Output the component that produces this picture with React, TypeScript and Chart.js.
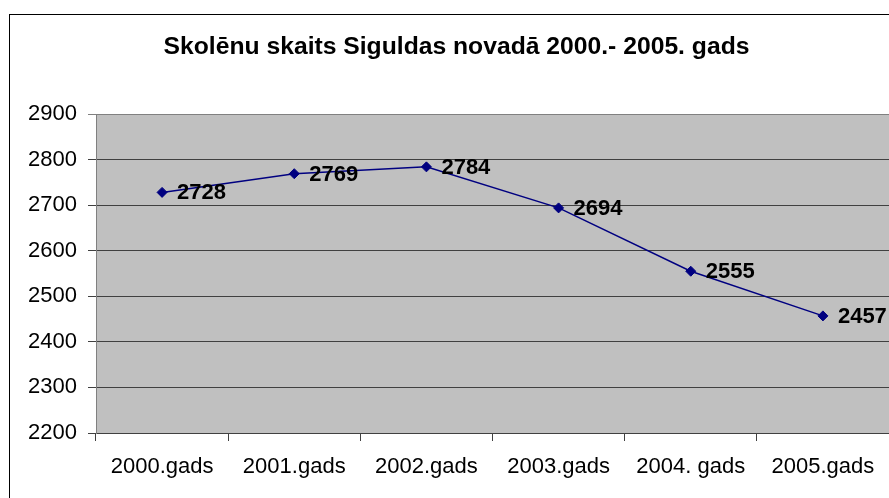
import React, { useEffect, useRef } from "react";
import { Chart, registerables } from "chart.js";

Chart.register(...registerables);

const TITLE = "Skolēnu skaits Siguldas novadā 2000.- 2005. gads";
const categories = ["2000.gads", "2001.gads", "2002.gads", "2003.gads", "2004. gads", "2005.gads"];
const values = [2728, 2769, 2784, 2694, 2555, 2457];
const yMin = 2200;
const yMax = 2900;
const yStep = 100;

const FONT = "'Liberation Sans', Arial, sans-serif";

export default function App() {
  const ref = useRef<HTMLCanvasElement | null>(null);

  useEffect(() => {
    document.body.style.margin = "0";
    const canvas = ref.current;
    if (!canvas) return;

    const decor = {
      id: "decor",
      beforeDraw(chart: any) {
        const { ctx, chartArea } = chart;
        ctx.save();
        ctx.fillStyle = "#ffffff";
        ctx.fillRect(0, 0, chart.width, chart.height);
        ctx.fillStyle = "#C0C0C0";
        ctx.fillRect(chartArea.left, chartArea.top, chartArea.right - chartArea.left, chartArea.bottom - chartArea.top);
        ctx.strokeStyle = "#000000";
        ctx.lineWidth = 1;
        ctx.strokeRect(9.5, 14.5, 900, 520);
        ctx.fillStyle = "#000000";
        ctx.font = `bold 24.7px ${FONT}`;
        ctx.textAlign = "center";
        ctx.textBaseline = "middle";
        ctx.fillText(TITLE, 456.5, 47.5);
        ctx.restore();
      },
      afterDatasetsDraw(chart: any) {
        const { ctx } = chart;
        const meta = chart.getDatasetMeta(0);
        ctx.save();
        ctx.fillStyle = "#000000";
        ctx.font = `bold 22px ${FONT}`;
        ctx.textAlign = "left";
        ctx.textBaseline = "middle";
        meta.data.forEach((pt: any, i: number) => {
          ctx.fillText(String(values[i]), pt.x + 15, pt.y + 1);
        });
        ctx.restore();
      },
    };

    const chart = new Chart(canvas, {
      type: "line",
      data: {
        labels: categories,
        datasets: [
          {
            data: values,
            borderColor: "#000080",
            backgroundColor: "#000080",
            borderWidth: 1.5,
            pointStyle: "rectRot",
            pointRadius: 5,
            pointBackgroundColor: "#000080",
            pointBorderColor: "#000080",
            pointBorderWidth: 1,
            tension: 0,
          },
        ],
      },
      options: {
        responsive: false,
        animation: false,
        devicePixelRatio: 1,
        layout: { autoPadding: false, padding: { top: 114, left: 0, right: 0, bottom: 0 } },
        plugins: {
          legend: { display: false },
          title: { display: false },
          tooltip: { enabled: false },
        },
        scales: {
          x: {
            type: "category",
            offset: true,
            afterFit: (s: any) => {
              s.height = 65;
              s.paddingLeft = 0;
              s.paddingRight = 0;
            },
            grid: {
              offset: true,
              drawOnChartArea: false,
              drawTicks: true,
              tickLength: 8,
              color: "#404040",
            },
            border: { color: "#404040", width: 1 },
            ticks: {
              color: "#000000",
              font: { family: FONT, size: 22 },
              padding: 13,
              maxRotation: 0,
              autoSkip: false,
            },
          },
          y: {
            min: yMin,
            max: yMax,
            afterFit: (s: any) => {
              s.width = 96;
              s.paddingTop = 0;
              s.paddingBottom = 0;
            },
            grid: {
              color: (c: any) => (c.tick && c.tick.value === yMax ? "#808080" : "#404040"),
              tickLength: 8,
              drawTicks: true,
            },
            border: { color: "#808080", width: 1 },
            ticks: {
              stepSize: yStep,
              color: "#000000",
              font: { family: FONT, size: 22 },
              padding: 11,
              callback: (v: any) => String(v),
            },
          },
        },
      },
      plugins: [decor],
    });

    return () => chart.destroy();
  }, []);

  return (
    <div style={{ width: 889, height: 498 }}>
      <canvas ref={ref} width={889} height={498} style={{ display: "block", width: 889, height: 498 }} />
    </div>
  );
}
